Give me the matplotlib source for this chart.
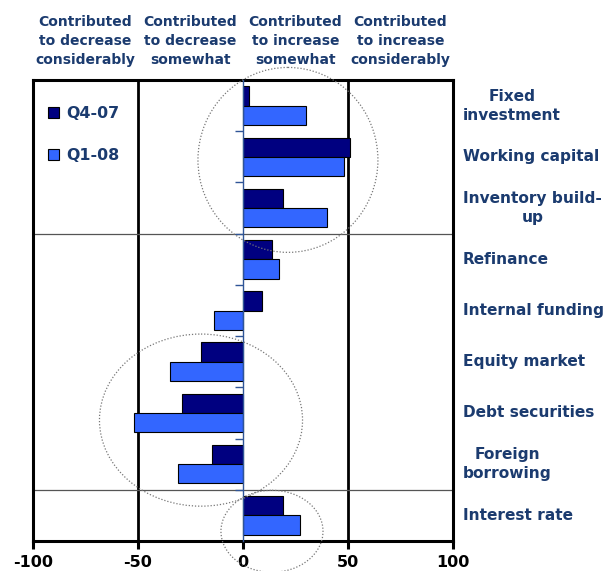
import matplotlib
matplotlib.use("Agg")
import matplotlib.pyplot as plt
import matplotlib.transforms as mtransforms
from matplotlib.patches import Ellipse
from matplotlib.lines import Line2D
import numpy as np

categories = ["Fixed\ninvestment", "Working capital", "Inventory build-\nup", "Refinance",
              "Internal funding", "Equity market", "Debt securities", "Foreign\nborrowing",
              "Interest rate"]
q4_07 = [3, 51, 19, 14, 9, -20, -29, -15, 19]
q1_08 = [30, 48, 40, 17, -14, -35, -52, -31, 27]
series_names = ["Q4-07", "Q1-08"]
headers = ["Contributed\nto decrease\nconsiderably", "Contributed\nto decrease\nsomewhat",
           "Contributed\nto increase\nsomewhat", "Contributed\nto increase\nconsiderably"]
header_pos = [-75, -25, 25, 75]
xticks = [-100, -50, 0, 50, 100]

plt.rcParams['font.family'] = ['DejaVu Sans']
NAVY = '#1B3B6F'

fig = plt.figure(figsize=(6.08, 5.71), dpi=100)
ax = fig.add_axes([33/608, 1-541/571, 420/608, 461/571])

y = np.arange(len(categories))
h = 0.377
ax.barh(y - h/2, q4_07, height=h, color='#000080', edgecolor='black', linewidth=0.8,
        label=series_names[0], zorder=3)
ax.barh(y + h/2, q1_08, height=h, color='#3366FF', edgecolor='black', linewidth=0.8,
        label=series_names[1], zorder=3)

ax.set_xlim(-100, 100)
ax.set_ylim(len(categories) - 0.5, -0.5)

# vertical thick lines
for xv in [-50, 50]:
    ax.axvline(xv, color='black', lw=2.0, zorder=1)
# horizontal group separators
for yv in [2.5, 7.5]:
    ax.axhline(yv, color='#555555', lw=0.9, zorder=1)

# spines / border
for s in ['top', 'right', 'bottom']:
    ax.spines[s].set_linewidth(2.2)
    ax.spines[s].set_color('black')
ax.spines['left'].set_position(('data', 0))
ax.spines['left'].set_color('#2F5597')
ax.spines['left'].set_linewidth(1.0)
ax.spines['left'].set_zorder(4)
ax.add_line(Line2D([0, 0], [0, 1], transform=ax.transAxes, color='black', lw=2.2,
                   clip_on=False, zorder=5))

ax.set_yticks(np.arange(len(categories) - 1) + 0.5)
ax.set_yticklabels([])
ax.tick_params(axis='y', length=6, width=1, color='#2F5597', direction='out')

ax.set_xticks(xticks)
ax.set_xticklabels([str(v) for v in xticks], fontsize=11.5, fontweight='bold')
ax.tick_params(axis='x', length=6, width=2.2, direction='out', pad=4)

# category labels
trans = mtransforms.blended_transform_factory(fig.transFigure, ax.transData)
for i, c in enumerate(categories):
    ax.text(463/608, i, c, transform=trans, ha='left', va='center', multialignment='center',
            fontsize=11.1, fontweight='bold', color=NAVY, linespacing=1.35)

# header labels
htrans = mtransforms.blended_transform_factory(ax.transData, fig.transFigure)
for x, t in zip(header_pos, headers):
    ax.text(x, 1-41/571, t, transform=htrans, ha='center', va='center',
            fontsize=10, fontweight='bold', color=NAVY, linespacing=1.42)

# dotted ellipses
for (cx, cy, w, hh) in [(21.4, 1.06, 85.7, 3.61), (-20.0, 6.14, 96.7, 3.36), (13.8, 8.31, 48.6, 1.6)]:
    e = Ellipse((cx, cy), w, hh, fill=False, linestyle=(0, (1, 1.5)), edgecolor='#777777',
                lw=0.9, zorder=6, clip_on=False)
    ax.add_patch(e)

leg = ax.legend(loc='upper left', bbox_to_anchor=(0.035, 0.944), frameon=False,
                handlelength=0.7, handleheight=0.7, handletextpad=0.45,
                labelspacing=1.72, borderaxespad=0, borderpad=0,
                prop={'weight': 'bold', 'size': 11.4})
for t in leg.get_texts():
    t.set_color(NAVY)

fig.savefig("out.png", dpi=100)
